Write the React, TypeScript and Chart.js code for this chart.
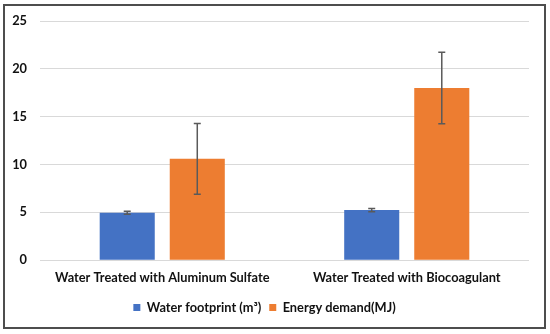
import React, { useEffect, useRef } from "react";
import { Chart, registerables } from "chart.js";
Chart.register(...registerables);

const categories = ["Water Treated with Aluminum Sulfate", "Water Treated with Biocoagulant"];
const waterFootprint = [4.95, 5.24];
const waterFootprintErr = [0.16, 0.17];
const energyDemand = [10.6, 18.0];
const energyDemandErr = [3.7, 3.73];
const seriesLabels = ["Water footprint (m³)", "Energy demand(MJ)"];
const yTicks = [0, 5, 10, 15, 20, 25];

const FONT = "Lato, 'Open Sans', sans-serif";

const errorBarPlugin = {
  id: "errorBars",
  afterDatasetsDraw(chart: any) {
    const ctx = chart.ctx;
    const y = chart.scales.y;
    ctx.save();
    ctx.strokeStyle = "#5a5a5a";
    ctx.lineWidth = 1.5;
    chart.data.datasets.forEach((ds: any, di: number) => {
      const meta = chart.getDatasetMeta(di);
      meta.data.forEach((bar: any, i: number) => {
        const v = ds.data[i];
        const e = ds.errors[i];
        const x = bar.x;
        const top = y.getPixelForValue(v + e);
        const bot = y.getPixelForValue(v - e);
        ctx.beginPath();
        ctx.moveTo(x, top);
        ctx.lineTo(x, bot);
        ctx.moveTo(x - 3.5, top);
        ctx.lineTo(x + 3.5, top);
        ctx.moveTo(x - 3.5, bot);
        ctx.lineTo(x + 3.5, bot);
        ctx.stroke();
      });
    });
    ctx.restore();
  },
};

const borderPlugin = {
  id: "outerBorder",
  afterDraw(chart: any) {
    const ctx = chart.ctx;
    ctx.save();
    ctx.strokeStyle = "#4d4d4d";
    ctx.lineWidth = 2;
    ctx.strokeRect(4, 5, 541, 323);
    ctx.restore();
  },
};

export default function App() {
  const ref = useRef<HTMLCanvasElement>(null);
  useEffect(() => {
    if (!ref.current) return;
    const chart = new Chart(ref.current, {
      type: "bar",
      data: {
        labels: categories,
        datasets: [
          {
            label: seriesLabels[0],
            data: waterFootprint,
            errors: waterFootprintErr,
            backgroundColor: "#4472C4",
            categoryPercentage: 0.573,
            barPercentage: 0.786,
          } as any,
          {
            label: seriesLabels[1],
            data: energyDemand,
            errors: energyDemandErr,
            backgroundColor: "#ED7D31",
            categoryPercentage: 0.573,
            barPercentage: 0.786,
          } as any,
        ],
      },
      options: {
        animation: false,
        responsive: false,
        devicePixelRatio: 1,
        layout: { padding: { left: 0, right: 21, top: 21, bottom: 10 } },
        scales: {
          x: {
            grid: { display: false, drawTicks: false },
            border: { display: false },
            ticks: { color: "#111", font: { family: FONT, size: 12.8, weight: "bold" }, padding: 10 },
            afterFit: (s: any) => { s.height = 33; },
          },
          y: {
            min: 0,
            max: 25,
            afterBuildTicks: (s: any) => { s.ticks = yTicks.map((v) => ({ value: v })); },
            grid: { color: "#d9d9d9", lineWidth: 1, drawTicks: false },
            border: { display: false },
            ticks: { color: "#111", font: { family: FONT, size: 12.8, weight: "bold" }, padding: 13 },
            afterFit: (s: any) => { s.width = 40; },
          },
        },
        plugins: {
          legend: {
            position: "bottom",
            labels: {
              boxWidth: 7,
              boxHeight: 7,
              color: "#111",
              font: { family: FONT, size: 12.8, weight: "bold" },
              padding: 8,
            },
          },
          tooltip: { enabled: false },
        },
      },
      plugins: [errorBarPlugin, borderPlugin],
    });
    return () => chart.destroy();
  }, []);
  return (
    <div style={{ position: "fixed", left: 0, top: 0, width: 550, height: 334, background: "#fff" }}>
      <canvas ref={ref} width={550} height={334} style={{ display: "block" }} />
    </div>
  );
}
